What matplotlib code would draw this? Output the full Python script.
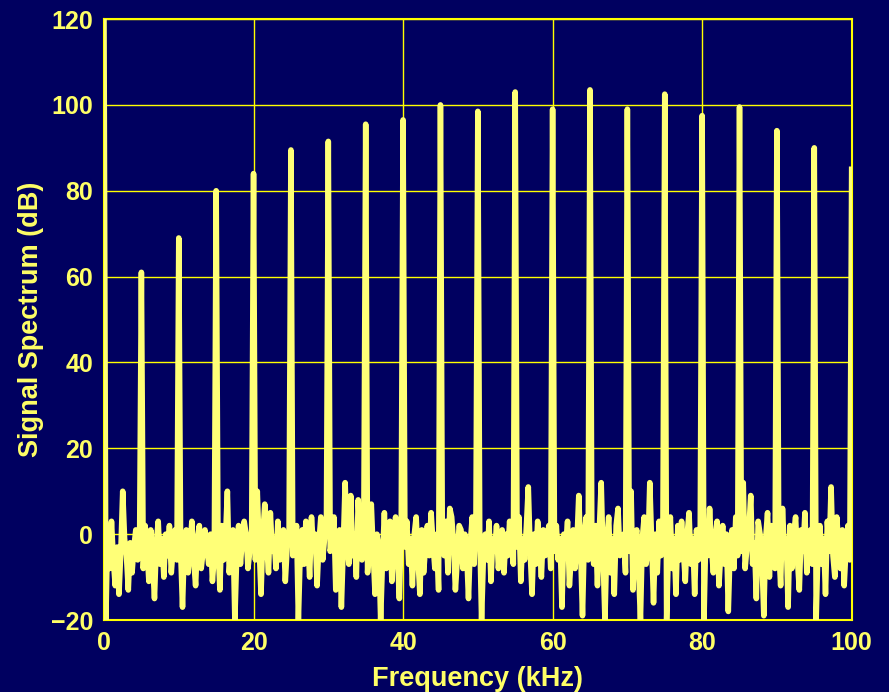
import numpy as np
import matplotlib.pyplot as plt

plt.rcParams["font.family"] = ["Liberation Sans", "DejaVu Sans"]

# harmonic peaks every 5 kHz (dB)
harmonic_khz = [0, 5, 10, 15, 20, 25, 30, 35, 40, 45, 50,
                55, 60, 65, 70, 75, 80, 85, 90, 95, 100]
harmonic_db = [120, 61, 69, 80, 84, 89.5, 91.5, 95.5, 96.5, 100, 98.5,
               103, 99, 103.5, 99, 102.5, 97.5, 99.5, 94, 90, 85]

# noise floor between harmonics, 0.25 kHz steps
noise_db = [
    [-20, 2, -8, 3, -6, -12, -3, -14, -4, 10, -1, -5, -13, -2, -9, -3, 1, -6, -4],
    [-8, 2, -3, -11, 1, -6, -15, -2, 3, -7, -1, -10, 0, -5, 2, -9, -3, 1, -6],
    [-4, -17, -2, 1, -9, -3, 3, -6, -12, -1, 2, -8, -4, 1, -3, -7, 0, -11, -5],
    [-3, -13, 2, -6, -1, 10, -9, -3, 1, -20, -5, 2, -7, -1, 3, 0, -8, -4, 1],
    [-6, 10, -3, -14, 0, 7, -2, -9, 5, -4, -1, -8, 3, -6, -2, 1, -11, -3, 0],
    [-5, -2, 2, -20, -4, 1, -7, 3, -1, -10, 4, -3, 0, -12, -2, 4, -6, -1, 2],
    [-4, -2, 4, -13, -5, 1, -17, -3, 12, -2, -7, 9, -5, 0, -10, 8, -1, -6, 2],
    [-9, -2, 7, -4, -14, 0, -3, -20, -6, 5, -8, -1, 3, -11, -2, 4, -5, -15, 1],
    [-3, 3, -7, -1, -12, 0, 4, -6, -14, 1, -9, -3, 2, -5, 5, -2, -8, 0, -13],
    [-1, -5, 3, -9, 6, 4, -2, -13, -6, 2, 1, -8, 0, -4, -15, -2, 4, -7, 5],
    [1, -20, -5, 0, -6, 3, -11, -1, -4, 2, -8, -3, 1, -9, 0, -5, 3, -2, -7],
    [-3, 4, -11, -1, -6, 2, 11, -4, -14, 0, -7, 3, -2, -10, 1, -5, -1, 2, -8],
    [-4, 2, -6, -1, -17, 0, -3, 3, -12, -5, 1, -8, -2, 9, -4, -19, 0, 4, -6],
    [-2, -7, 2, -12, 1, 12, -5, -20, -2, 4, -9, -1, -14, 2, 6, -5, -3, 0, -9],
    [-4, 10, -13, -2, 1, -8, -20, -1, 4, -7, -4, 12, -2, -16, 0, -9, 3, -5, -1],
    [-20, -3, 4, -8, -1, -14, 2, -6, 3, -4, -11, 0, 5, -7, -1, -14, 1, -6, 2],
    [-20, 1, -5, 6, -3, -9, -1, 3, -12, -4, 2, -7, 0, -18, -3, 1, -8, 4, -5],
    [-4, 12, -8, -3, 1, 9, -7, -2, -15, 3, 0, -6, -19, -1, 5, -10, 2, -5, -8],
    [-3, -12, 6, -4, -1, -17, 2, -8, 0, 4, -6, -13, 1, -4, 5, -9, -2, 1, -7],
    [-20, -3, 2, -7, -1, -14, 3, -4, 11, -5, -10, 4, -2, -8, 1, -12, -3, 2, -6],
]

freq = []
level = []
for i, peak in enumerate(harmonic_db):
    freq.append(harmonic_khz[i])
    level.append(peak)
    if i < len(noise_db):
        for j, v in enumerate(noise_db[i]):
            freq.append(harmonic_khz[i] + 0.25 * (j + 1))
            level.append(v)

bg = "#000060"
fg = "#FFFF00"
trace = "#FFFF77"
text_col = "#FFFF66"

fig = plt.figure(figsize=(8.89, 6.92), dpi=100, facecolor=bg)
ax = fig.add_axes([0.117, 0.104, 0.841, 0.8685], facecolor=bg)

ax.plot(freq, level, color=trace, lw=4, solid_joinstyle="round", zorder=3)

ax.set_xlim(0, 100)
ax.set_ylim(-20, 120)
ax.set_xticks(range(0, 101, 20))
ax.set_yticks(range(-20, 121, 20))
ax.grid(True, color=fg, lw=1.0)
ax.set_axisbelow(True)
for s in ax.spines.values():
    s.set_color(fg)
    s.set_linewidth(1.5)
ax.tick_params(colors=text_col, length=0, pad=8, labelsize=18)
for lab in ax.get_xticklabels() + ax.get_yticklabels():
    lab.set_fontweight("bold")

ax.set_xlabel("Frequency (kHz)", color=text_col, fontsize=19.5,
              fontweight="bold", labelpad=8)
ax.set_ylabel("Signal Spectrum (dB)", color=text_col, fontsize=19.5,
              fontweight="bold", labelpad=5)

fig.savefig("out.png", dpi=100, facecolor=bg)
